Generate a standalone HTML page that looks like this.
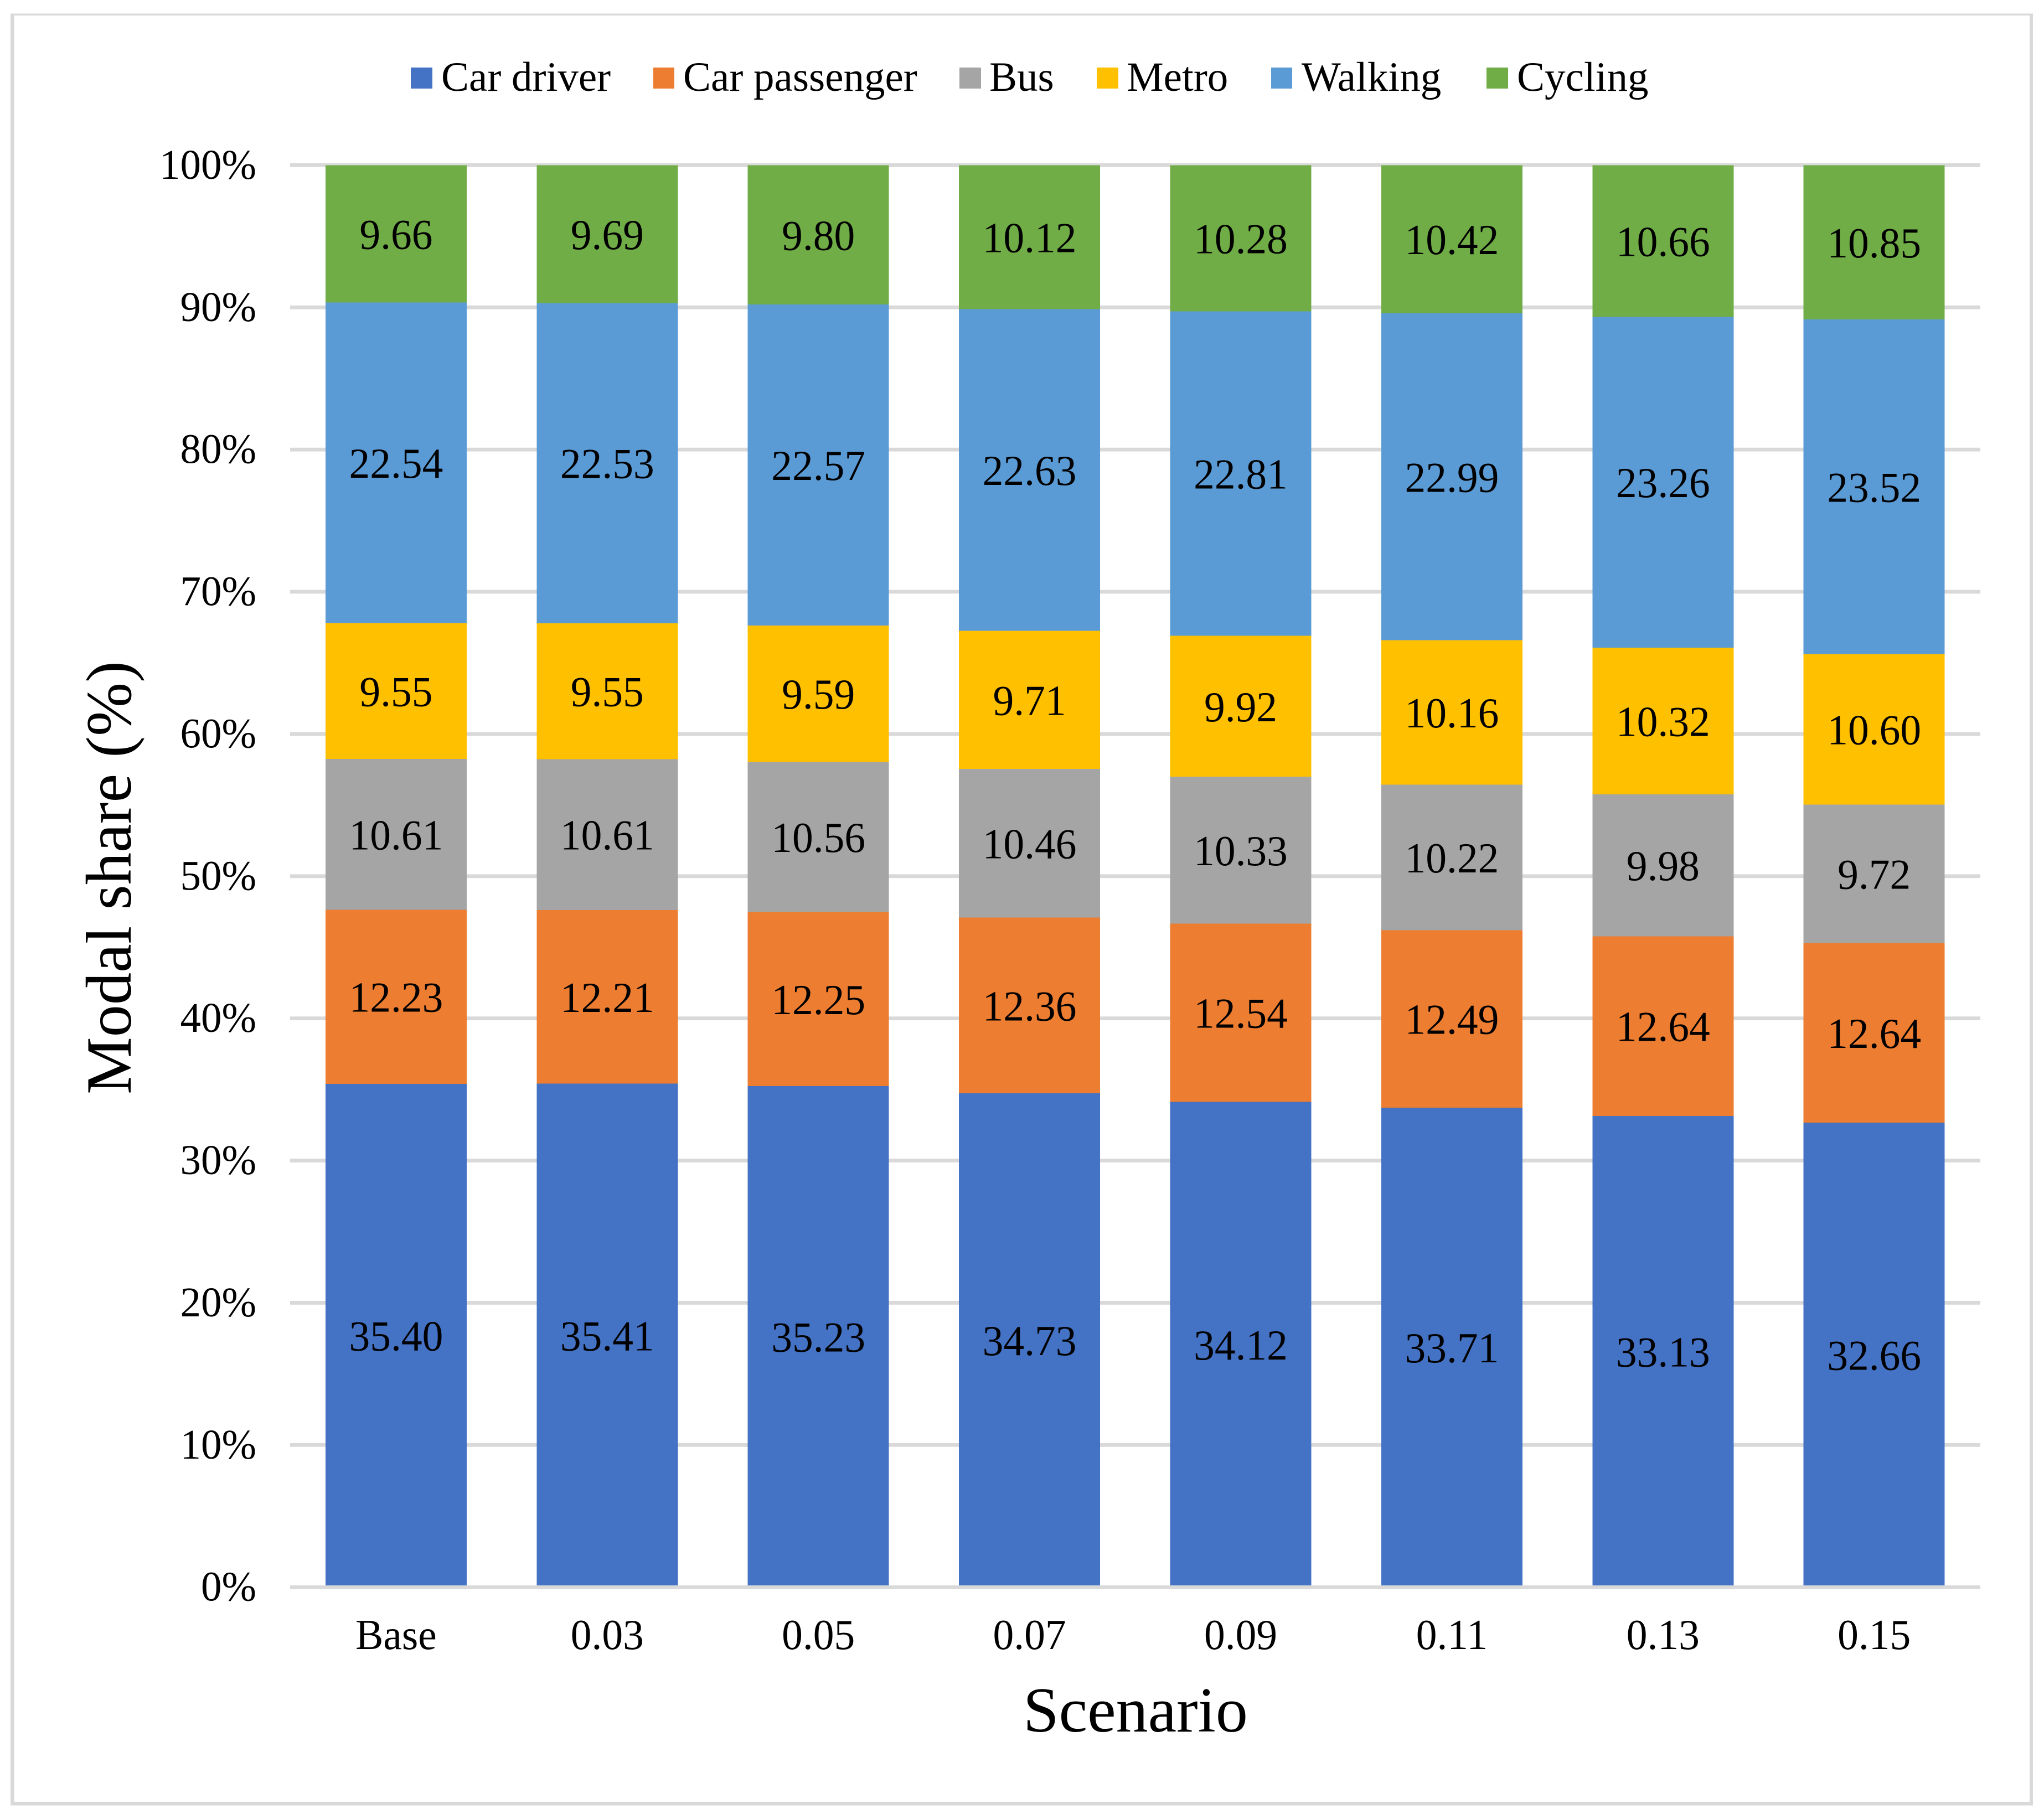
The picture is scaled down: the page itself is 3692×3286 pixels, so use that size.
<!DOCTYPE html>
<html lang="en">
<head>
<meta charset="utf-8">
<title>Modal share by scenario</title>
<style>
html,body{margin:0;padding:0;background:#fff;}
svg{display:block;}
text{font-family:"Liberation Serif","Times New Roman",serif;fill:#000;}
</style>
</head>
<body>
<svg id="chart" xmlns="http://www.w3.org/2000/svg" width="3692" height="3286" viewBox="0 0 3692 3286">
  <rect x="0" y="0" width="3692" height="3286" fill="#ffffff"/>
  <rect x="19" y="24.5" width="3653" height="3237" fill="#d9d9d9"/>
  <rect x="25.5" y="28" width="3640.5" height="3227" fill="#ffffff"/>
  <g id="grid"></g>
  <g id="bars"></g>
  <rect id="axis" x="524" y="2864" width="3053" height="6.5" fill="#d9d9d9"/>
  <g id="labels"></g>
  <g id="yticks"></g>
  <g id="xticks"></g>
  <g id="legend"></g>
  <text x="2051" y="3128" font-size="116" text-anchor="middle">Scenario</text>
  <text transform="translate(236,1585.5) rotate(-90)" font-size="116.5" text-anchor="middle">Modal share (%)</text>
</svg>
<script>
const categories = ["Base", "0.03", "0.05", "0.07", "0.09", "0.11", "0.13", "0.15"];
const carDriver = [35.40, 35.41, 35.23, 34.73, 34.12, 33.71, 33.13, 32.66];
const carPassenger = [12.23, 12.21, 12.25, 12.36, 12.54, 12.49, 12.64, 12.64];
const bus = [10.61, 10.61, 10.56, 10.46, 10.33, 10.22, 9.98, 9.72];
const metro = [9.55, 9.55, 9.59, 9.71, 9.92, 10.16, 10.32, 10.60];
const walking = [22.54, 22.53, 22.57, 22.63, 22.81, 22.99, 23.26, 23.52];
const cycling = [9.66, 9.69, 9.80, 10.12, 10.28, 10.42, 10.66, 10.85];
const seriesNames = ["Car driver", "Car passenger", "Bus", "Metro", "Walking", "Cycling"];
const yTicks = [0, 10, 20, 30, 40, 50, 60, 70, 80, 90, 100];

const seriesValues = [carDriver, carPassenger, bus, metro, walking, cycling];
const seriesColors = ["#4472c4", "#ed7d31", "#a5a5a5", "#ffc000", "#5b9bd5", "#70ad47"];
const legendSwatchX = [742, 1180, 1733, 1981, 2296, 2685];
const legendSwatchW = [39, 38, 39, 39, 38, 39];
const legendTextX = [797, 1234, 1787, 2035, 2351, 2740];

const NS = "http://www.w3.org/2000/svg";
const yScale = v => 2867.2 - v * 25.688;
const xCenter = i => 715.4 + 381.4 * i;
const BAR_W = 255;
const TEXT_STRETCH = 1.02;

function make(tag, parent) {
  const el = document.createElementNS(NS, tag);
  parent.appendChild(el);
  return el;
}

const gridGroup = document.getElementById("grid");
const yTickGroup = document.getElementById("yticks");
yTicks.forEach(t => {
  if (t !== 0) {
    const line = make("rect", gridGroup);
    
    
    line.setAttribute("x", 524);
    line.setAttribute("y", yScale(t) - 3.4);
    line.setAttribute("width", 3053);
    line.setAttribute("height", 6.8);
    line.setAttribute("fill", "#d9d9d9");
  }
  const label = make("text", yTickGroup);
  
  
  label.setAttribute("transform", "translate(463," + (yScale(t) + 24.5) + ") scale(1," + TEXT_STRETCH + ")");
  label.setAttribute("font-size", 75);
  label.setAttribute("text-anchor", "end");
  label.textContent = t + "%";
});

const barGroup = document.getElementById("bars");
const labelGroup = document.getElementById("labels");
const xTickGroup = document.getElementById("xticks");
categories.forEach((cat, i) => {
  const total = seriesValues.reduce((s, arr) => s + arr[i], 0);
  let cum = 0;
  seriesValues.forEach((arr, s) => {
    const v = arr[i];
    const share = v / total * 100;
    const y1 = yScale(cum);
    const y0 = yScale(cum + share);
    cum += share;
    const seg = make("rect", barGroup);
    
    
    seg.setAttribute("x", xCenter(i) - BAR_W / 2);
    seg.setAttribute("y", y0);
    seg.setAttribute("width", BAR_W);
    seg.setAttribute("height", y1 - y0);
    seg.setAttribute("fill", seriesColors[s]);
    seg.setAttribute("shape-rendering", "crispEdges");
    const txt = make("text", labelGroup);
    
    
    txt.setAttribute("transform", "translate(" + xCenter(i) + "," + ((y0 + y1) / 2 + 27) + ") scale(1," + TEXT_STRETCH + ")");
    txt.setAttribute("font-size", 75.5);
    txt.setAttribute("text-anchor", "middle");
    txt.textContent = v.toFixed(2);
  });
  const tick = make("text", xTickGroup);
  
  
  tick.setAttribute("transform", "translate(" + xCenter(i) + ",2979) scale(1," + TEXT_STRETCH + ")");
  tick.setAttribute("font-size", 75.5);
  tick.setAttribute("text-anchor", "middle");
  tick.textContent = cat;
});

const legendGroup = document.getElementById("legend");
seriesNames.forEach((name, s) => {
  const swatch = make("rect", legendGroup);
  
  
  swatch.setAttribute("x", legendSwatchX[s]);
  swatch.setAttribute("y", 122);
  swatch.setAttribute("width", legendSwatchW[s]);
  swatch.setAttribute("height", 38);
  swatch.setAttribute("fill", seriesColors[s]);
  const entry = make("text", legendGroup);
  
  
  entry.setAttribute("x", legendTextX[s]);
  entry.setAttribute("y", 164);
  entry.setAttribute("font-size", 75);
  entry.textContent = name;
});
</script>
</body>
</html>
